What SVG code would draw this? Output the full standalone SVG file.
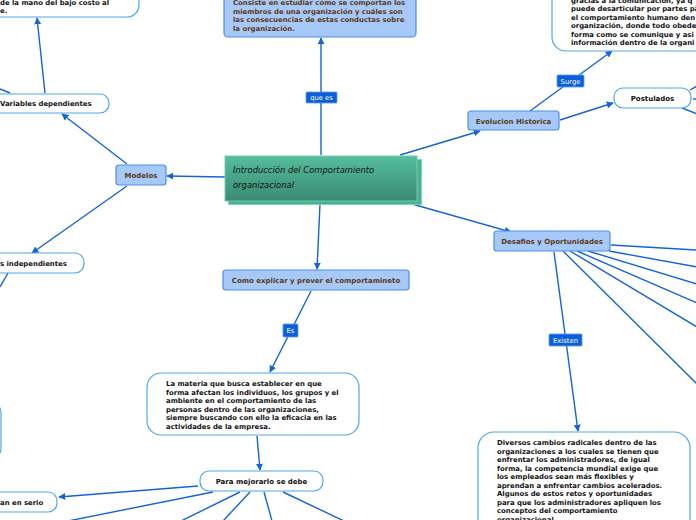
<svg xmlns="http://www.w3.org/2000/svg" width="696" height="520" viewBox="0 0 696 520">
<style>
.bg{fill:#ffffff}
.c{stroke:#1464D6;stroke-width:1.4;fill:none}
.ca{stroke:#1464D6;stroke-width:1.4;fill:none;marker-end:url(#arr)}
.bn{fill:#A7C9FA;stroke:#4C8EEA;stroke-width:1.2}
.bt{font-family:"DejaVu Sans",Verdana,sans-serif;font-size:7px;font-weight:bold;fill:#5A3A14;text-anchor:middle}
.bb{font-family:"DejaVu Sans",Verdana,sans-serif;font-size:6.9px;font-weight:bold;fill:#5A3A14}
.wn{fill:#ffffff;stroke:#4DA6EC;stroke-width:1.2}
.wt{font-family:"DejaVu Sans",Verdana,sans-serif;font-size:7px;font-weight:bold;fill:#111111;text-anchor:middle}
.wb{font-family:"DejaVu Sans",Verdana,sans-serif;font-size:6.9px;font-weight:bold;fill:#111111}
.lb{fill:#0B5FD8;stroke:#5E9BEF;stroke-width:0.8}
.lt{font-family:"DejaVu Sans",Verdana,sans-serif;font-size:6.8px;fill:#ffffff;text-anchor:middle}
.ct{font-family:"DejaVu Sans","Liberation Sans",sans-serif;font-size:8.4px;font-style:italic;fill:#111111}
</style>
<defs>
<marker id="arr" viewBox="0 0 10 10" refX="9" refY="5" markerWidth="7" markerHeight="7" markerUnits="userSpaceOnUse" orient="auto">
<path d="M0,0 L10,5 L0,10 z" fill="#1464D6"/>
</marker>
<linearGradient id="tg" x1="0" y1="0" x2="0" y2="1">
<stop offset="0" stop-color="#55BD9D"/>
<stop offset="1" stop-color="#3A8A70"/>
</linearGradient>
</defs>
<rect class="bg" x="0" y="0" width="696" height="520"/>

<g id="connectors">
<line class="ca" x1="321" y1="155" x2="321" y2="38"/>
<line class="ca" x1="225" y1="177" x2="167" y2="176"/>
<line class="ca" x1="127" y1="164" x2="62" y2="114"/>
<line class="ca" x1="127" y1="186" x2="32" y2="253"/>
<line class="ca" x1="45" y1="93" x2="37" y2="18"/>
<line class="c" x1="10" y1="93" x2="0" y2="89"/>
<line class="c" x1="8" y1="273" x2="0" y2="287"/>
<line class="ca" x1="320" y1="204" x2="317" y2="269"/>
<line class="ca" x1="311" y1="291" x2="270" y2="372"/>
<line class="ca" x1="257" y1="436" x2="260" y2="470"/>
<line class="ca" x1="198" y1="486" x2="59" y2="497"/>
<line class="c" x1="213" y1="492" x2="68" y2="521"/>
<line class="c" x1="240" y1="492" x2="181" y2="521"/>
<line class="c" x1="250" y1="492" x2="223" y2="521"/>
<line class="c" x1="264" y1="492" x2="272" y2="521"/>
<line class="c" x1="283" y1="492" x2="344" y2="521"/>
<line class="ca" x1="400" y1="155" x2="480" y2="131"/>
<line class="ca" x1="530" y1="111" x2="612" y2="51"/>
<line class="ca" x1="560" y1="120" x2="613" y2="103"/>
<line class="c" x1="690" y1="90" x2="697" y2="86"/>
<line class="c" x1="693" y1="99" x2="697" y2="99"/>
<line class="c" x1="682" y1="108" x2="697" y2="114"/>
<line class="ca" x1="412" y1="204" x2="511" y2="232"/>
<line class="c" x1="611" y1="245" x2="697" y2="250"/>
<line class="c" x1="609" y1="251" x2="697" y2="267"/>
<line class="c" x1="588" y1="251" x2="697" y2="284"/>
<line class="c" x1="577" y1="251" x2="697" y2="303"/>
<line class="c" x1="570" y1="251" x2="697" y2="327"/>
<line class="c" x1="563" y1="251" x2="697" y2="384"/>
<line class="ca" x1="554" y1="252" x2="578" y2="431"/>
<rect class="lb" x="306" y="92" width="31" height="11" rx="1"/>
<text class="lt" x="321.5" y="100.2">que es</text>
<rect class="lb" x="557" y="75" width="27" height="12" rx="1"/>
<text class="lt" x="570.5" y="83.5">Surge</text>
<rect class="lb" x="283" y="324" width="15" height="13" rx="1"/>
<text class="lt" x="290.5" y="333">Es</text>
<rect class="lb" x="549" y="334" width="33" height="12" rx="1"/>
<text class="lt" x="565.5" y="342.5">Existen</text>
</g>

<g id="central">
<rect x="228.5" y="159.5" width="193" height="45" fill="#4FAF90" stroke="#7AD6BA" stroke-width="1"/>
<rect x="225" y="156" width="192" height="45" fill="url(#tg)" stroke="#6ACFB0" stroke-width="1"/>
<text class="ct" x="233" y="173">Introducción del Comportamiento</text>
<text class="ct" x="233" y="188">organizacional</text>
</g>

<g id="node-consiste">
<rect class="bn" x="224" y="-20" width="192" height="57" rx="4"/>
<text class="bb" x="233" y="5">Consiste en estudiar cómo se comportan los</text>
<text class="bb" x="233" y="13.5">miembros de una organización y cuáles son</text>
<text class="bb" x="233" y="22">las consecuencias de estas conductas sobre</text>
<text class="bb" x="233" y="30.5">la organización.</text>
</g>

<g id="node-topleft">
<rect class="wn" x="-120" y="-40" width="259" height="57" rx="12"/>
<text class="wb" x="0" y="4.5">de la mano del bajo costo al</text>
<text class="wb" x="0" y="12.5">e.</text>
</g>

<g id="node-vardep">
<rect class="wn" x="-60" y="94" width="169" height="19" rx="9"/>
<text class="wb" x="0" y="106" font-size="7">Variables dependientes</text>
</g>

<g id="node-modelos">
<rect class="bn" x="116" y="165" width="50" height="20" rx="3"/>
<text class="bt" x="141" y="178">Modelos</text>
</g>

<g id="node-varindep">
<rect class="wn" x="-60" y="253" width="144" height="20" rx="9"/>
<text class="wb" x="0" y="266" font-size="7">s independientes</text>
</g>

<g id="node-leftedge">
<rect class="wn" x="-100" y="404" width="101" height="53" rx="8"/>
</g>

<g id="node-como">
<rect class="bn" x="223" y="270" width="186" height="20" rx="3"/>
<text class="bt" x="316" y="283">Como explicar y prever el comportamineto</text>
</g>

<g id="node-materia">
<rect class="wn" x="147" y="373" width="212" height="62" rx="14"/>
<text class="wb" x="166" y="386">La materia que busca establecer en que</text>
<text class="wb" x="166" y="394.5">forma afectan los individuos, los grupos y el</text>
<text class="wb" x="166" y="403">ambiente en el comportamiento de las</text>
<text class="wb" x="166" y="411.5">personas dentro de las organizaciones,</text>
<text class="wb" x="166" y="420">siempre buscando con ello la eficacia en las</text>
<text class="wb" x="166" y="428.5">actividades de la empresa.</text>
</g>

<g id="node-para">
<rect class="wn" x="200" y="471" width="123" height="20" rx="9"/>
<text class="wt" x="261.5" y="484">Para mejorarlo se debe</text>
</g>

<g id="node-serio">
<rect class="wn" x="-60" y="492" width="117" height="20" rx="9"/>
<text class="wb" x="0" y="505" font-size="7">an en serio</text>
</g>

<g id="node-evolucion">
<rect class="bn" x="468" y="111" width="91" height="19" rx="3"/>
<text class="bt" x="513.5" y="123.5">Evolucion Historica</text>
</g>

<g id="node-topright">
<rect class="wn" x="552" y="-40" width="200" height="91" rx="14"/>
<text class="wb" x="571" y="3">gracias a la comunicación, ya q</text>
<text class="wb" x="571" y="11">puede desarticular por partes pa</text>
<text class="wb" x="571" y="19.5">el comportamiento humano den</text>
<text class="wb" x="571" y="28">organización, donde todo obede</text>
<text class="wb" x="571" y="36.5">forma como se comunique y asi</text>
<text class="wb" x="571" y="45">información dentro de la organi</text>
</g>

<g id="node-postulados">
<rect class="wn" x="614" y="88" width="77" height="20" rx="9"/>
<text class="wt" x="652.5" y="101">Postulados</text>
</g>

<g id="node-desafios">
<rect class="bn" x="494" y="231" width="116" height="20" rx="3"/>
<text class="bt" x="552" y="244">Desafios y Oportunidades</text>
</g>

<g id="node-diversos">
<rect class="wn" x="478" y="432" width="212" height="120" rx="16"/>
<text class="wb" x="497" y="445">Diversos cambios radicales dentro de las</text>
<text class="wb" x="497" y="453.5">organizaciones a los cuales se tienen que</text>
<text class="wb" x="497" y="462">enfrentar los administradores, de igual</text>
<text class="wb" x="497" y="470.5">forma, la competencia mundial exige que</text>
<text class="wb" x="497" y="479">los empleados sean más flexibles y</text>
<text class="wb" x="497" y="487.5">aprendan a enfrentar cambios acelerados.</text>
<text class="wb" x="497" y="496">Algunos de estos retos y oportunidades</text>
<text class="wb" x="497" y="504.5">para que los administradores apliquen los</text>
<text class="wb" x="497" y="513">conceptos del comportamiento</text>
<text class="wb" x="497" y="521.5">organizacional.</text>
</g>
</svg>
